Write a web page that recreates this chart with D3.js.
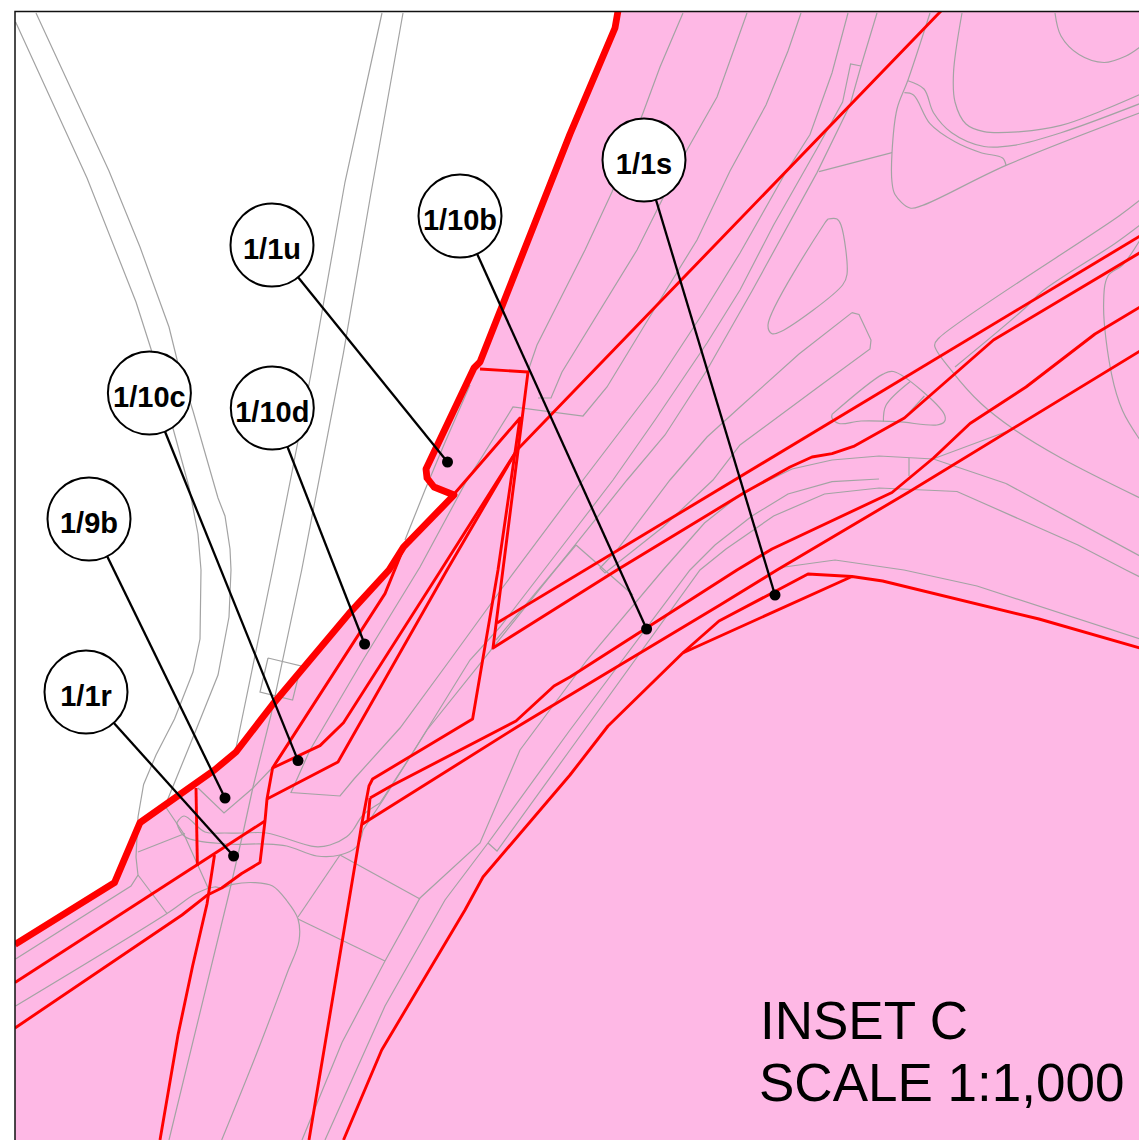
<!DOCTYPE html>
<html>
<head>
<meta charset="utf-8">
<style>
  html, body { margin: 0; padding: 0; background: #fff; }
  svg { display: block; }
</style>
<script src="https://d3js.org/d3.v7.min.js"></script>
</head>
<body>
<div id="map"></div>
<script>
// Sheet coordinates
const sheetX = [0, 1139], sheetY = [0, 1140];

// Thick boundary of the pink area
const boundary = [[618,11],[615,28],[570,134],[480,362],[474,368],[426,469],[427,478],[434,487],[454,495],[403.5,547],[389,570],[349,613.6],[272.6,704.5],[236,752],[214.5,770],[140,822.6],[114.5,882.6],[15,944.4]];
const frameCorners = [[15,1146],[1145,1146],[1145,11]];

// Thin red parcel lines
const parcelLines = [
  [[941,11],[517,450],[441,570],[343.5,722.7],[320,745.6],[272.6,768],[267,799],[265,821],[260,862.6],[241.7,873.5],[221.7,888],[207,895.3],[182,915],[15,1028]],
  [[517,450],[447,570],[338,762],[267,799]],
  [[455,493],[520,418],[498,570],[472.6,719],[372.6,779],[369,786],[361.7,824.5],[309,1140]],
  [[404,547],[385,593.6],[276,762.6],[272.6,768]],
  [[480,369],[528,372],[493,648],[617,570],[744.5,492.6],[790,467],[812,457],[832,453.6],[853.5,446.4],[904.4,418],[993.5,340],[1140,252.6]],
  [[497,623],[1140,236]],
  [[370,798],[391,786],[516,721],[554,686],[570,677],[737,570],[772,549],[892,492.5],[933.5,458],[970,423.5],[1026,387],[1095,334],[1140,307]],
  [[370,798],[368,820]],
  [[361.7,824.5],[517,727],[600,677],[720,605],[777,570],[908,492.5],[1140,351]],
  [[682.7,653],[852,576.5],[882.6,581],[1039,619],[1140,648]],
  [[682.7,653],[719,621],[808,574],[852,576.5]],
  [[682.7,653],[608,726],[570,775],[483,877],[465,910],[381.7,1050],[343.5,1140]],
  [[15,982.6],[265,821]],
  [[196,788],[197.4,866]],
  [[214.5,855],[207,904],[192.6,966],[178,1035],[160,1140]]
];

// Grey base map: roads running down the left
const leftRoads = [
  [[15.6,22],[87,178],[136,302],[151,349],[174,432],[189,487],[198,534],[201,570],[200,639],[193,672],[174.5,719],[156,755],[143.6,784.5],[138,817],[136,857],[138,875],[131,886],[15.6,959]],
  [[36,13],[109,171],[140,247],[169,327],[178,363.5],[193,411],[218,498],[225,516],[230,549],[231,570],[229,617],[218,675],[196,730],[165,806],[183.6,833.5],[209,890]],
  [[382,13],[345,182],[311,374],[292.6,469],[272.6,570],[236,748]],
  [[403,13],[371,193],[343.5,352.6],[301.7,570],[271,715],[253,787],[243,833],[229,893.5],[169,1140]],
  [[268,658],[301,666],[292.6,700],[260,692],[268,658]],
  [[198,788],[224,813],[253,788],[273,767]],
  [[470,385],[443,447],[425,490],[405,540]]
];

// Grey base map: the long kerbs running north-east
const kerbLines = [
  [[683,13],[660,67],[643,113],[612,192],[585,250],[537,345],[527,374]],
  [[747,13],[717,97],[687,150],[637,250],[562,372],[551,398],[538,398]],
  [[801,13],[788,51],[766,105],[730,171],[697,240],[660,300],[607,387],[583,416],[513,407],[480,460],[467,480],[420,567],[363,660],[310,750],[291,792.5],[340,796],[354,779],[400,728],[450,660],[503,587],[583,480],[657,383],[703,313],[740,253],[784.5,174.5],[810,134.5],[832,73],[848,13]],
  [[861,66],[850.6,64],[842.6,102],[819,145],[773.6,225],[740,290],[707,343],[655,420],[613,480],[577,527],[500,627],[470,660],[410,757],[380,803]],
  [[877,13],[861,66],[850,105],[817,172.6],[752,291],[707,370],[665,435],[627,480],[427,730],[383,800],[363,830]],
  [[852,312.6],[799,354],[740,407],[707,437],[670,480],[617,550],[600,568],[605,573],[663,527],[713,480],[740,445],[821,385],[870,349],[871,340],[859,314.4],[852,312.6]],
  [[576,545],[633,595]],
  [[576,545],[496,640]],
  [[1006,483.5],[933.5,459],[879,456],[832,460],[792,469],[741,494],[704.5,523],[663,570],[587,660],[520,750],[480,843],[420,898],[385,961],[342,1042.5],[302,1140]],
  [[879,479],[832,481.6],[788,494],[752,516],[715,545],[690,570],[570,730],[488,843],[445,900],[385,1006],[325,1140]],
  [[1126,570],[1078,545],[957,491.5],[879,488],[824.5,494],[773.6,516],[726,549],[700,570],[570,750],[497,851],[488,843]],
  [[1006,483.5],[1140,556]],
  [[1126,570],[1140,577]],
  [[777,570],[784.5,567],[835,560],[904,570],[977,586],[1140,639]],
  [[933.5,458.7],[1013.5,429]],
  [[909,458],[909,476]]
];

// Grey base map: the junction at lower left
const junctionLines = [
  [[176.7,823],[184,816],[205,832],[225,833],[243,833],[266.7,833],[315,846.7],[330,845],[346.7,836.7],[353,830],[363,815],[380,803]],
  [[176.7,823],[185,836.7],[226.7,844],[263,844],[286.7,846],[316.7,856],[340,855],[356.7,846.7],[363,830]],
  [[138,852],[185,833.5]],
  [[138,875],[167,913.5]],
  [[15.6,1006],[167,913.5],[196,893.5],[214.5,887],[222,888],[232.6,884.4],[254.5,882.6],[272.6,886],[287,901],[298,919],[299,941],[287,973.5],[258,1050],[221.7,1140]],
  [[340,855],[298,917]],
  [[340,855],[420,899]],
  [[298,919],[385,961]]
];

// Grey base map: islands and roads at upper right
const upperRightLines = [
  [[962,13],[953.5,73],[955,102],[966,124],[984,131.6],[1021,131.6],[1061,125.4],[1097,112.7],[1140,94.5]],
  [[930,13],[908,80],[897,109],[892,152.7],[892,182],[895,194.5],[910,208],[922.6,205.4],[1006,165.4],[1140,112.7]],
  [[908,80.7],[924,89],[933.5,112.7],[951.7,132.7],[984,146.5],[1013.5,145.4],[1061,132.7],[1140,103.6]],
  [[904.4,92.7],[913.5,95],[930,123.6],[955,141.8],[981,152.7],[1002.6,158],[1006,165.4]],
  [[892,152.7],[819,171.6]],
  [[1055,13],[1061,36],[1079,54.5],[1104,62.5],[1126,56],[1140,47]],
  [[828,219],[837,219],[841,225],[847,274.5],[842.6,285],[781,331.5],[772,333.7],[768,325],[824.5,223.5],[828,219]],
  [[1140,200],[1119,216],[939,338],[934.6,345.3],[951.7,370.8],[981,403.5],[1013.5,429],[1061,458],[1140,498]],
  [[1140,225],[1115,243.5],[1042.6,291],[1024,309],[955,367]],
  [[1140,240],[1122.6,265],[1108,276],[1103.6,305],[1111.6,374.4],[1122.6,410.8],[1140,440]],
  [[832,414.4],[882.6,374.4],[893.5,371.5],[944.4,414.4],[944.4,421.7],[937,425],[897,421.7],[861,421],[839,423.5],[832,418],[832,414.4]],
  [[910,381.7],[886,405.3],[883.4,421.7]],
  [[924.4,396],[904.4,418]]
];

// Call-out labels and the points they refer to
const calloutLabels = ["1/1u", "1/10b", "1/1s", "1/10c", "1/10d", "1/9b", "1/1r"];
const calloutCentres = [[272,245],[460,216],[644,160],[149.4,393],[272.3,408],[89,519],[86,692]];
const calloutPoints = [[447.5,462],[646.6,629],[775,595],[298,760.6],[364.6,644],[225,798],[233.6,856]];

const insetTitle = ["INSET C", "SCALE 1:1,000"];
const insetAnchor = [[760,1039],[759,1100.7]];

const width = 1139, height = 1140;
const x = d3.scaleLinear().domain(sheetX).range([0, width]);
const y = d3.scaleLinear().domain(sheetY).range([0, height]);
const line = d3.line().x(d => x(d[0])).y(d => y(d[1]));
// rounded kerbs, for the parts of the base map that curve
const curve = d3.line().x(d => x(d[0])).y(d => y(d[1])).curve(d3.curveCatmullRom.alpha(0.5));

const svg = d3.select("#map").append("svg")
  .attr("width", width)
  .attr("height", height)
  .attr("viewBox", [0, 0, width, height]);

svg.append("defs").append("clipPath").attr("id", "frame")
  .append("rect")
  .attr("x", x(15)).attr("y", y(11.5))
  .attr("width", x(1145) - x(15)).attr("height", y(1146) - y(11.5));

const map = svg.append("g").attr("clip-path", "url(#frame)");

// pink area first, everything else sits on it
map.append("path")
  .attr("d", line(boundary.concat(frameCorners)) + "Z")
  .attr("fill", "#feb8e5");

const base = map.append("g")
  .attr("fill", "none")
  .attr("stroke", "#a3a3a3")
  .attr("stroke-width", 1.2);

base.selectAll("path.straight")
  .data([...leftRoads, ...kerbLines])
  .enter().append("path")
  .attr("class", "straight")
  .attr("d", line);

base.selectAll("path.curved")
  .data([...junctionLines, ...upperRightLines])
  .enter().append("path")
  .attr("class", "curved")
  .attr("d", curve);

map.append("g")
  .attr("fill", "none")
  .attr("stroke", "#ff0000")
  .attr("stroke-width", 2.9)
  .attr("stroke-linejoin", "round")
  .selectAll("path")
  .data(parcelLines)
  .enter().append("path")
  .attr("d", line);

map.append("path")
  .attr("d", line(boundary))
  .attr("fill", "none")
  .attr("stroke", "#ff0000")
  .attr("stroke-width", 6.8)
  .attr("stroke-linejoin", "round");

// frame
svg.append("rect")
  .attr("x", x(15)).attr("y", y(11.5))
  .attr("width", x(1145) - x(15)).attr("height", y(1146) - y(11.5))
  .attr("fill", "none")
  .attr("stroke", "#111")
  .attr("stroke-width", 1.5);

// leaders, then dots, then the circles on top
const callouts = calloutLabels.map((label, i) => ({ label, c: calloutCentres[i], p: calloutPoints[i] }));

svg.append("g").attr("stroke", "#000").attr("stroke-width", 2.3)
  .selectAll("line")
  .data(callouts)
  .enter().append("line")
  .attr("x1", d => x(d.c[0])).attr("y1", d => y(d.c[1]))
  .attr("x2", d => x(d.p[0])).attr("y2", d => y(d.p[1]));

svg.append("g")
  .selectAll("circle")
  .data(callouts)
  .enter().append("circle")
  .attr("cx", d => x(d.p[0])).attr("cy", d => y(d.p[1]))
  .attr("r", 5.5)
  .attr("fill", "#000");

const bubble = svg.append("g")
  .selectAll("g")
  .data(callouts)
  .enter().append("g")
  .attr("transform", d => `translate(${x(d.c[0])},${y(d.c[1])})`);

bubble.append("circle")
  .attr("r", 41.5)
  .attr("fill", "#fff")
  .attr("stroke", "#000")
  .attr("stroke-width", 2);

bubble.append("text")
  .attr("y", 14)
  .attr("text-anchor", "middle")
  .attr("font-family", "'Liberation Sans', Arial, sans-serif")
  .attr("font-weight", "bold")
  .attr("font-size", 29)
  .attr("fill", "#000")
  .text(d => d.label);

svg.append("g")
  .selectAll("text")
  .data(insetTitle)
  .enter().append("text")
  .attr("x", (d, i) => x(insetAnchor[i][0]))
  .attr("y", (d, i) => y(insetAnchor[i][1]))
  .attr("font-family", "'Liberation Sans', Arial, sans-serif")
  .attr("font-size", 53)
  .attr("fill", "#000")
  .text(d => d);
</script>
</body>
</html>
